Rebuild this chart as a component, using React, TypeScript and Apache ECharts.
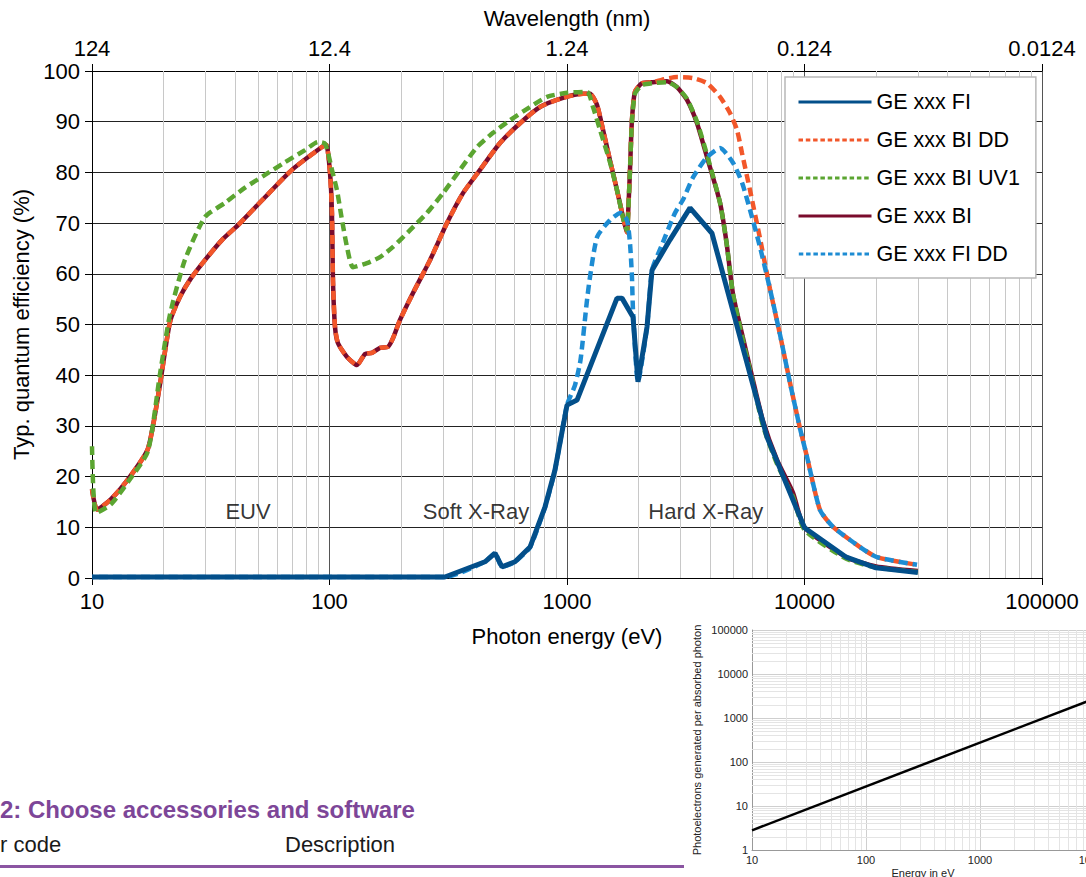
import React, { useEffect, useRef } from "react";
import * as echarts from "echarts";

const FONT = "'Liberation Sans', Arial, Helvetica, sans-serif";

// Legend order
const SERIES_NAMES = ["GE xxx FI", "GE xxx BI DD", "GE xxx BI UV1", "GE xxx BI", "GE xxx FI DD"];

// [photon energy eV, QE %]
const BI_SHARED = [
  [10, 17.5], [10.5, 13.5], [12, 15.5], [14.2, 19.5], [17.2, 25.5], [19.3, 38], [21.3, 50.5],
  [23.5, 55.5], [26, 59], [29.9, 62.7], [35.3, 66.7], [41.2, 69.6], [53.5, 75.1], [69.5, 80.5],
  [92.9, 85], [97, 85.4], [100.5, 79.9], [102.4, 72], [103.4, 58.8], [105.5, 49.5], [108.6, 46.3],
  [118.5, 43.6], [130.6, 42], [141.1, 44.2], [151, 44.4], [163.2, 45.4], [176.4, 45.6], [185.1, 47.3],
  [198.1, 50.9], [224.7, 56.2], [265, 62.7], [312.4, 70], [364.8, 75.9], [430.2, 80.5], [522.3, 85.8],
  [634.2, 89.7], [769.7, 92.9], [962, 94.7], [1168, 95.5], [1250, 95.5], [1338, 93.3], [1418, 88.4],
  [1517, 82.4], [1624, 76.5], [1721, 71.2], [1789, 68.2], [1806, 71.2], [1842, 80.5], [1877, 90.3],
  [1933, 95.9], [2069, 97.6], [2302, 97.8],
];
const BI_TAIL = [
  [2637, 98], [2905, 96.8], [3201, 94.3], [3527, 89.7], [3886, 83], [4409, 74], [4700, 66], [5000, 56],
  [5500, 47.5], [6000, 40], [6687, 31], [7661, 23.3], [8946, 16.8], [10000, 10], [15000, 4.1],
  [20000, 2.3], [30000, 1.4],
];
const BI_DD_TAIL = [
  [2637, 98.5], [2905, 98.8], [3393, 98.6], [3886, 97.6], [4409, 94.9], [4857, 91.7], [5197, 88.4],
  [5456, 83.8], [5896, 76.5], [6494, 67], [7156, 57], [7886, 48], [8688, 38.5], [9575, 29.5],
  [10245, 23.9], [11624, 13.4], [13183, 10.1], [17131, 6.1], [20200, 4.1], [29770, 2.6],
];
const UV1 = [
  [10, 26], [10.4, 12.8], [12, 14.5], [14.2, 19], [17.2, 25], [19.3, 40], [21.3, 52], [24.6, 62.7],
  [29.9, 71.2], [36.3, 74], [44.1, 77], [53.5, 79.5], [64.9, 82], [78.9, 84.4], [89.4, 86], [96, 85.6],
  [102.4, 80.5], [107.5, 76.5], [112.9, 70.6], [118.5, 65.3], [125.6, 61.3], [143.8, 62.1],
  [163.2, 63.3], [185.1, 65.3], [218.3, 68.6], [257.3, 72], [300.6, 75.9], [354.3, 80.5], [417.9, 85],
  [488, 87.8], [575.4, 90.3], [698.8, 92.9], [823.8, 94.9], [1000, 95.7], [1214, 95.9], [1287, 92.9],
  [1377, 88.4], [1517, 82], [1624, 76.5], [1721, 71], [1789, 68.5], [1806, 71], [1842, 80.5],
  [1877, 90], [1933, 95.5], [2069, 97.2], [2302, 97.6], [2637, 97.8], [2905, 96.8], [3201, 94.5],
  [3527, 90], [3886, 83.5], [4409, 74], [4700, 66], [5000, 56], [5500, 47], [6000, 39.5], [6687, 30],
  [7661, 22.5], [8946, 16], [10000, 9.5], [15000, 3.8], [20000, 2.1], [30000, 1.2],
];
const FI = [
  [10, 0.2], [306, 0.2], [451.5, 3.2], [497.6, 4.9], [532.5, 2.2], [604, 3.2], [698.8, 6.1], [808, 14],
  [890, 21.3], [1000, 34.1], [1102, 35.1], [1624, 55.2], [1704, 55.2], [1896, 51.5], [1990, 38.7],
  [2172, 49.5], [2280, 60.7], [2714, 66.7], [3296, 73], [4077, 68], [4857, 54.8], [6952, 27.8],
  [10000, 9.9], [15000, 4.1], [20000, 2.0], [30000, 1.1],
];
const FI_DD_TAIL = [
  [1080, 38], [1140, 43], [1210, 54.2], [1250, 59.4], [1340, 67.3], [1517, 70.6], [1680, 72],
  [1789, 70.6], [1842, 66], [1877, 59.4], [1896, 52.9], [1990, 38.7], [2172, 49.5], [2280, 60.7],
  [2500, 65.5], [2849, 72], [3079, 74.6], [3393, 79], [3886, 83], [4409, 84.8], [5000, 81.9],
  [5456, 78], [5896, 72.6], [6494, 65.3], [7156, 57], [7886, 48], [8688, 38.5],
  [9575, 29.5], [10245, 23.9], [11624, 13.4], [13183, 10.1], [17131, 6.1], [20200, 4.1], [29770, 2.6],
];

const BI = [...BI_SHARED, ...BI_TAIL];
const BI_DD = [...BI_SHARED, ...BI_DD_TAIL];
const FI_DD = [...FI.filter((p) => p[0] <= 1000), ...FI_DD_TAIL];

const REGION_NAMES = ["EUV", "Soft X-Ray", "Hard X-Ray"];
const REGION_ENERGY = [45.4, 414, 3838];
const REGION_LEVEL = [13.2, 13.2, 13.2];

// photoelectrons per absorbed photon vs energy (eV)
const PHOTOELECTRONS = [[10, 2.8], [10000, 2740]];

const COLORS = {
  "GE xxx FI": "#034F8A",
  "GE xxx BI DD": "#F2572A",
  "GE xxx BI UV1": "#5BA531",
  "GE xxx BI": "#7A0B2C",
  "GE xxx FI DD": "#1D8CD3",
};
const DASHED = { "GE xxx BI DD": true, "GE xxx BI UV1": true, "GE xxx FI DD": true };

function minorValues(from: number, to: number) {
  const out: number[] = [];
  for (let d = from; d < to; d *= 10) for (let k = 2; k <= 9; k++) out.push(d * k);
  return out;
}

export default function App() {
  const ref = useRef<HTMLDivElement>(null);
  useEffect(() => {
    if (!ref.current) return;
    const chart = echarts.init(ref.current, null, { renderer: "svg" });
    const lineSeries = (name: string, data: number[][], extra: any = {}) => ({
      name,
      type: "line",
      xAxisIndex: 0,
      yAxisIndex: 0,
      data,
      symbol: "none",
      smooth: 0.2,
      silent: true,
      z: 3,
      itemStyle: { color: COLORS[name] },
      lineStyle: {
        color: COLORS[name],
        width: 4.5,
        type: DASHED[name] ? [9, 5] : "solid",
        cap: "butt",
        ...extra,
      },
    });
    const minorMarkLine = (color: string, data: any[]) => ({
      silent: true,
      z: 1,
      symbol: ["none", "none"],
      label: { show: false },
      emphasis: { disabled: true },
      lineStyle: { color, width: 1, type: "solid" },
      data,
    });
    const option: any = {
      animation: false,
      backgroundColor: "#ffffff",
      textStyle: { fontFamily: FONT },
      grid: [
        { left: 92, top: 71, width: 950, height: 507, outerBoundsMode: "none", containLabel: false },
        { left: 752, top: 630, width: 342, height: 220, outerBoundsMode: "none", containLabel: false },
      ],
      legend: {
        data: SERIES_NAMES.map((n) => ({
          name: n,
          itemStyle: { opacity: 0 },
          lineStyle: { width: 3, type: DASHED[n] ? [4.5, 2.8] : "solid", color: COLORS[n] },
        })),
        orient: "vertical",
        left: 785,
        top: 77,
        padding: [13, 16, 12, 12],
        itemGap: 14,
        itemWidth: 73,
        itemHeight: 4,
        backgroundColor: "#ffffff",
        borderColor: "#b8b8b8",
        borderWidth: 1.5,
        selectedMode: false,
        itemStyle: { opacity: 0 },
        textStyle: { fontSize: 21.5, color: "#000", fontFamily: FONT, lineHeight: 24 },
      },
      xAxis: [
        {
          type: "log",
          logBase: 10,
          min: 10,
          max: 100000,
          gridIndex: 0,
          position: "bottom",
          axisLine: { show: true, lineStyle: { color: "#000", width: 1 } },
          axisTick: { show: true, length: 7, lineStyle: { color: "#000" } },
          axisLabel: { fontSize: 22, color: "#000", margin: 12, formatter: (v: number) => String(v) },
          splitLine: { show: true, lineStyle: { color: "#555", width: 1 } },
          name: "Photon energy (eV)",
          nameLocation: "middle",
          nameGap: 47,
          nameTextStyle: { fontSize: 22, color: "#000" },
        },
        {
          type: "log",
          logBase: 10,
          min: 10,
          max: 100000,
          gridIndex: 0,
          position: "top",
          axisLine: { show: true, lineStyle: { color: "#000", width: 1 } },
          axisTick: { show: true, length: 7, lineStyle: { color: "#000" } },
          axisLabel: {
            fontSize: 22,
            color: "#000",
            margin: 12,
            formatter: (v: number) => String(+(1240 / v).toPrecision(3)),
          },
          splitLine: { show: false },
          name: "Wavelength (nm)",
          nameLocation: "middle",
          nameGap: 42,
          nameTextStyle: { fontSize: 22, color: "#000" },
        },
        {
          type: "log",
          logBase: 10,
          min: 10,
          max: 10000,
          gridIndex: 1,
          axisLine: { show: true, lineStyle: { color: "#999", width: 1 } },
          axisTick: { show: false },
          axisLabel: { fontSize: 11, color: "#222", margin: 4, formatter: (v: number) => String(v) },
          splitLine: { show: true, lineStyle: { color: "#cfcfcf", width: 1 } },
          name: "Energy in eV",
          nameLocation: "middle",
          nameGap: 17,
          nameTextStyle: { fontSize: 11, color: "#222" },
        },
      ],
      yAxis: [
        {
          type: "value",
          min: 0,
          max: 100,
          interval: 10,
          gridIndex: 0,
          axisLine: { show: true, lineStyle: { color: "#000", width: 1 } },
          axisTick: { show: true, length: 7, lineStyle: { color: "#000" } },
          axisLabel: { fontSize: 22, color: "#000", margin: 12 },
          splitLine: { show: true, lineStyle: { color: "#222", width: 1 } },
          name: "Typ. quantum efficiency (%)",
          nameLocation: "middle",
          nameGap: 56,
          nameTextStyle: { fontSize: 22, color: "#000" },
        },
        {
          type: "log",
          logBase: 10,
          min: 1,
          max: 100000,
          gridIndex: 1,
          axisLine: { show: true, lineStyle: { color: "#999", width: 1 } },
          axisTick: { show: false },
          axisLabel: { fontSize: 11, color: "#222", margin: 4, formatter: (v: number) => String(v) },
          splitLine: { show: true, lineStyle: { color: "#cfcfcf", width: 1 } },
          name: "Photoelectrons generated per absorbed photon",
          nameLocation: "middle",
          nameGap: 50,
          nameTextStyle: { fontSize: 11, color: "#222" },
        },
      ],
      series: [
        {
          name: "_minorMain",
          type: "line",
          xAxisIndex: 0,
          yAxisIndex: 0,
          data: [],
          symbol: "none",
          silent: true,
          z: 1,
          markLine: minorMarkLine("#c8c8c8", minorValues(10, 100000).map((v) => ({ xAxis: v }))),
        },
        {
          name: "_minorSmall",
          type: "line",
          xAxisIndex: 2,
          yAxisIndex: 1,
          data: [],
          symbol: "none",
          silent: true,
          z: 1,
          markLine: minorMarkLine("#e4e4e4", [
            ...minorValues(10, 10000).map((v) => ({ xAxis: v })),
            ...minorValues(1, 100000).map((v) => ({ yAxis: v })),
          ]),
        },
        lineSeries("GE xxx BI", BI),
        lineSeries("GE xxx BI DD", BI_DD),
        lineSeries("GE xxx BI UV1", UV1),
        lineSeries("GE xxx FI DD", FI_DD, { dashOffset: 7 }),
        { ...lineSeries("GE xxx FI", FI, { width: 5 }), smooth: false, z: 4 },
        {
          name: "_regions",
          type: "scatter",
          xAxisIndex: 0,
          yAxisIndex: 0,
          silent: true,
          symbolSize: 1,
          itemStyle: { color: "rgba(0,0,0,0)" },
          label: { show: true, position: "inside", formatter: "{b}", fontSize: 22, color: "#000", fontFamily: FONT },
          data: REGION_NAMES.map((n, i) => ({ name: n, value: [REGION_ENERGY[i], REGION_LEVEL[i]] })),
          z: 5,
        },
        {
          name: "_photoelectrons",
          type: "line",
          xAxisIndex: 2,
          yAxisIndex: 1,
          data: PHOTOELECTRONS,
          symbol: "none",
          silent: true,
          z: 6,
          lineStyle: { color: "#000", width: 2.5 },
          itemStyle: { color: "#000" },
        },
      ],
      graphic: [
        {
          type: "text",
          left: 0,
          top: 797,
          style: { text: "2: Choose accessories and software", fontSize: 24, fontWeight: "bold", fontFamily: FONT, fill: "#7D4698" },
        },
        { type: "text", left: 0, top: 833, style: { text: "r code", fontSize: 22, fontFamily: FONT, fill: "#1a1a1a" } },
        { type: "text", left: 285, top: 833, style: { text: "Description", fontSize: 22, fontFamily: FONT, fill: "#1a1a1a" } },
        { type: "rect", left: 0, top: 865, shape: { width: 684, height: 3 }, style: { fill: "#8B55A2" } },
      ],
    };
    chart.setOption(option);
    return () => chart.dispose();
  }, []);
  return (
    <div
      ref={ref}
      style={{ position: "absolute", left: 0, top: 0, width: 1086, height: 877, background: "#fff" }}
    />
  );
}
